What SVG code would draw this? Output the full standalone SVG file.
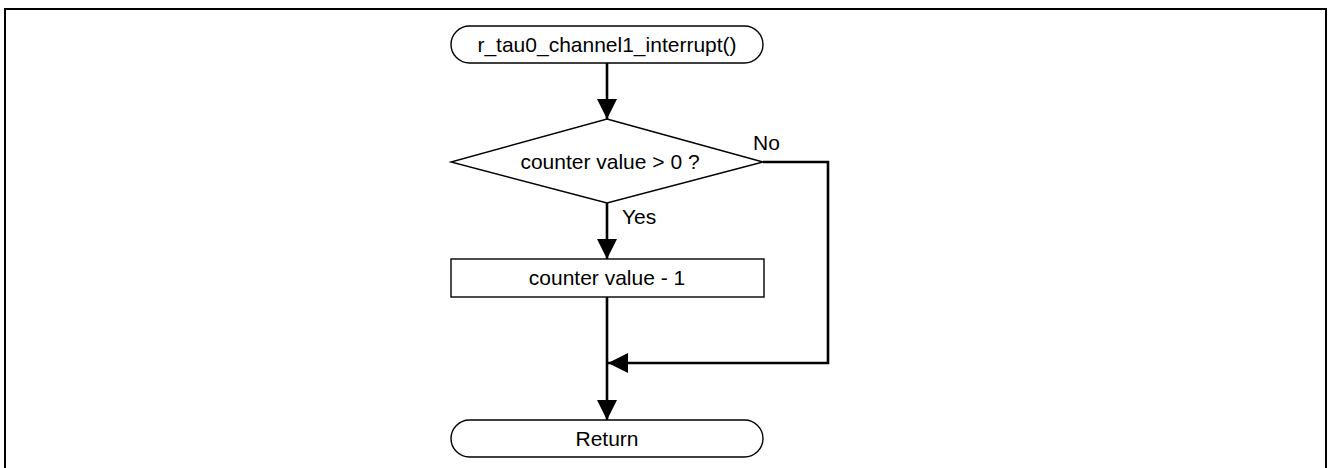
<svg xmlns="http://www.w3.org/2000/svg" width="1328" height="468" viewBox="0 0 1328 468">
  <defs>
    <style>
      .shape { fill: #ffffff; stroke: #000000; stroke-width: 1.4; }
      .flow { fill: none; stroke: #000000; stroke-width: 2.6; }
      .label { font-family: "Liberation Sans", Arial, sans-serif; font-size: 21px; fill: #000000; }
      .mid { text-anchor: middle; }
    </style>
    <marker id="arrow" markerUnits="userSpaceOnUse" markerWidth="20" markerHeight="20" viewBox="0 0 18 18" refX="18" refY="9" orient="auto">
      <path d="M0,0 L18,9 L0,18 Z" fill="#000000"/>
    </marker>
  </defs>

  <rect width="1328" height="468" fill="#ffffff"/>
  <!-- frame -->
  <rect x="5" y="9" width="1321" height="465" fill="none" stroke="#000000" stroke-width="2"/>

  <!-- connectors -->
  <g id="connectors">
    <line class="flow" x1="607" y1="63" x2="607" y2="119" marker-end="url(#arrow)"/>
    <line class="flow" x1="607" y1="203" x2="607" y2="259" marker-end="url(#arrow)"/>
    <line class="flow" x1="607" y1="297" x2="607" y2="420" marker-end="url(#arrow)"/>
    <polyline class="flow" points="763,162 828,162 828,363 608,363" marker-end="url(#arrow)"/>
    <text class="label" x="753" y="150">No</text>
    <text class="label" x="622" y="224">Yes</text>
  </g>

  <g id="start">
    <rect class="shape" x="451" y="26" width="312" height="37" rx="18.5" ry="18.5"/>
    <text class="label mid" x="607" y="52">r_tau0_channel1_interrupt()</text>
  </g>

  <g id="check">
    <polygon class="shape" points="607,119 763,162 607,203 451,162"/>
    <text class="label mid" x="610" y="169">counter value &gt; 0 ?</text>
  </g>

  <g id="decrement">
    <rect class="shape" x="451" y="259" width="313" height="38"/>
    <text class="label mid" x="607" y="285">counter value - 1</text>
  </g>

  <g id="end">
    <rect class="shape" x="451" y="420" width="312" height="37" rx="18.5" ry="18.5"/>
    <text class="label mid" x="607" y="446">Return</text>
  </g>
</svg>
